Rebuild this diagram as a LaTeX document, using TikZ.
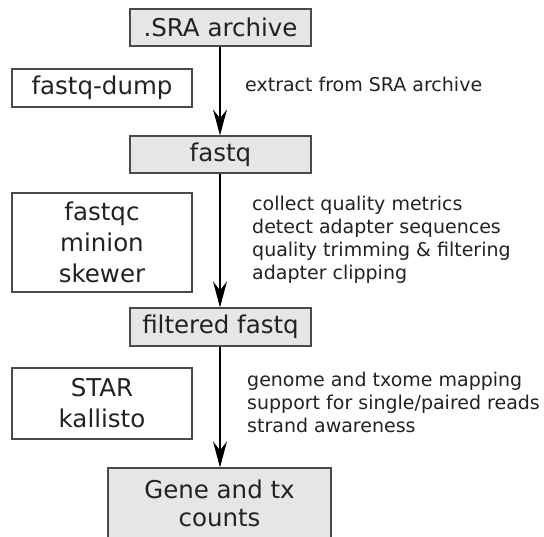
\documentclass[tikz,border=0pt]{standalone}
\usepackage{fontspec}
\setmainfont{DejaVu Sans}
\usetikzlibrary{arrows.meta}
\definecolor{boxfill}{HTML}{E6E6E6}
\definecolor{boxline}{HTML}{4A4A4A}
\definecolor{txt}{HTML}{222222}
\begin{document}
\begin{tikzpicture}[x=1pt,y=-1pt,
  mainbox/.style={draw=boxline,line width=1.2pt,fill=boxfill,inner sep=0pt,align=center,text=txt,
    font=\fontsize{24.5}{31}\selectfont},
  toolbox/.style={draw=boxline,line width=1.2pt,fill=white,inner sep=0pt,align=center,text=txt,
    font=\fontsize{24.5}{31}\selectfont},
  note/.style={anchor=base west,inner sep=0pt,align=left,text=txt,
    font=\fontsize{19}{23}\selectfont},
  flow/.style={draw=black,line width=1.3pt,-{Stealth[length=26pt,width=14pt,inset=9pt]}}]
\clip (0,0) rectangle (544,537);
\fill[white] (0,0) rectangle (544,537);
\node[mainbox,minimum width=181pt,minimum height=37pt] (sra) at (220.5,27.5) {.SRA archive};
\node[toolbox,minimum width=180pt,minimum height=38pt] (dump) at (102,88) {fastq-dump};
\node[mainbox,minimum width=181pt,minimum height=37pt] (fastq) at (220.5,154.5) {fastq};
\node[toolbox,minimum width=180pt,minimum height=99pt] (qc) at (102,242.5) {fastqc\\minion\\skewer};
\node[mainbox,minimum width=181pt,minimum height=38pt] (filt) at (220.5,327) {filtered fastq};
\node[toolbox,minimum width=180pt,minimum height=71pt] (map) at (102,403.5) {STAR\\kallisto};
\node[mainbox,minimum width=223pt,minimum height=71pt,font=\fontsize{24.5}{28}\selectfont] (counts) at (219.5,503.5) {Gene and tx\\counts};
\node[note] (n1) at (245,92) {extract from SRA archive};
\node[note] (n2) at (252,280) {collect quality metrics\\detect adapter sequences\\quality trimming \& filtering\\adapter clipping};
\node[note] (n3) at (247,432) {genome and txome mapping\\support for single/paired reads\\strand awareness};
\draw[flow] (sra.south -| 220,0) -- (fastq.north -| 220,0);
\draw[flow] (fastq.south -| 220,0) -- (filt.north -| 220,0);
\draw[flow] (filt.south -| 220,0) -- (counts.north -| 220,0);
\end{tikzpicture}
\end{document}
